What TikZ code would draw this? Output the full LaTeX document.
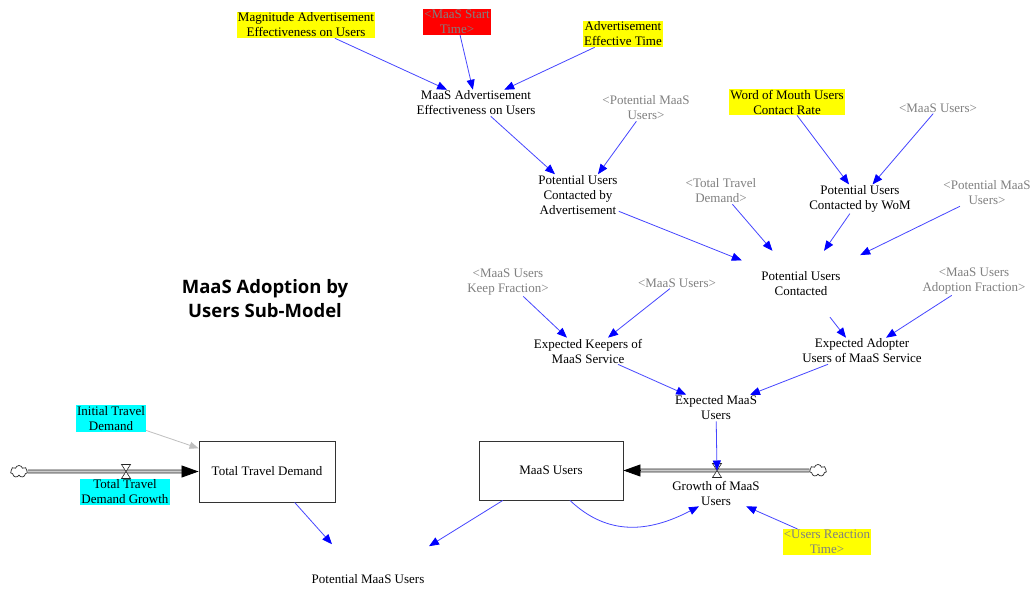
\documentclass[tikz,border=0pt]{standalone}
\usepackage{fontspec}
\setmainfont{Liberation Serif}
\newfontfamily\headfont{Open Sans}
\usetikzlibrary{arrows.meta,shapes.symbols}

\definecolor{linkblue}{RGB}{70,70,255}
\definecolor{tipblue}{RGB}{0,0,255}
\definecolor{shadowgray}{RGB}{128,128,128}
\definecolor{markyellow}{RGB}{255,255,0}
\definecolor{markred}{RGB}{255,0,0}
\definecolor{markcyan}{RGB}{0,255,255}

\tikzset{
  varlabel/.style={font=\fontsize{13}{15}\selectfont, align=center, inner sep=1pt, text=black},
  shadowvar/.style={varlabel, text=shadowgray},
  markY/.style={fill=markyellow},
  markR/.style={fill=markred},
  markC/.style={fill=markcyan},
  stockbox/.style={varlabel, draw=black!80, line width=0.9pt},
  link/.style={draw=linkblue, line width=0.8pt, -{Triangle[length=10pt,width=8pt,color=tipblue]}},
  initlink/.style={draw=black!25, line width=0.8pt, -{Triangle[length=9pt,width=7pt]}},
  pipe/.style={draw=black!85, line width=0.8pt, double=black!20, double distance=2.2pt},
  pipetip/.style={-{Triangle[length=17pt,width=12pt]}, black, line width=0.8pt},
  sourcecloud/.style={cloud, cloud puffs=7, cloud ignores aspect, draw=black!85, line width=0.7pt,
    fill=white, minimum width=17pt, minimum height=12pt, inner sep=0pt},
  valve/.pic={\path[pic actions] (-4.5,-7) -- (4.5,-7) -- (-4.5,7) -- (4.5,7) -- cycle;},
}

\begin{document}
\begin{tikzpicture}[x=1pt,y=-1pt]
\path[fill=white] (0,0) rectangle (1035,590);
\useasboundingbox (0,0) rectangle (1035,590);

% title
\node[font=\headfont\bfseries\fontsize{18.5}{23.5}\selectfont, align=center] (title) at (265,298.5)
  {MaaS Adoption by\\Users Sub-Model};

% advertisement branch
\node[varlabel, markY] (mag) at (306,25) {Magnitude Advertisement\\Effectiveness on Users};
\node[shadowvar, markR] (start) at (457,22) {<MaaS Start\\Time>};
\node[varlabel, markY] (aet) at (623,34) {Advertisement\\Effective Time};
\node[varlabel] (mae) at (476,103) {MaaS Advertisement\\Effectiveness on Users};
\node[shadowvar] (pmu1) at (646,108) {<Potential MaaS\\Users>};
\node[varlabel] (pua) at (578,195) {Potential Users\\Contacted by\\Advertisement};

% word of mouth branch
\node[varlabel, markY] (womr) at (787,102) {Word of Mouth Users\\Contact Rate};
\node[shadowvar] (mu1) at (938,108) {<MaaS Users>};
\node[varlabel] (puw) at (860,199) {Potential Users\\Contacted by WoM};
\node[shadowvar] (ttd1) at (721,191) {<Total Travel\\Demand>};
\node[shadowvar] (pmu2) at (987,193) {<Potential MaaS\\Users>};

% contacted users
\node[varlabel, minimum width=118pt, minimum height=66pt] (puc) at (801,284) {Potential Users\\Contacted};
\node[shadowvar] (kf) at (508,282) {<MaaS Users\\Keep Fraction>};
\node[shadowvar] (mu2) at (677,283) {<MaaS Users>};
\node[shadowvar] (af) at (974,281) {<MaaS Users\\Adoption Fraction>};
\node[varlabel] (ek) at (588,351) {Expected Keepers of\\MaaS Service};
\node[varlabel] (ea) at (862,351) {Expected Adopter\\Users of MaaS Service};
\node[varlabel] (emu) at (716,408) {Expected MaaS\\Users};

% stocks and flows
\node[stockbox, minimum width=136pt, minimum height=61pt] (ttd) at (267,471.5) {Total Travel Demand};
\node[stockbox, minimum width=144pt, minimum height=59pt] (mu) at (551,470.5) {MaaS Users};
\node[sourcecloud] (c1) at (19,471.5) {};
\node[sourcecloud] (c2) at (818,470.5) {};
\coordinate (v1) at (126,471.5);
\coordinate (v2) at (717,470.5);

\draw[pipe] (c1.east) -- ([xshift=-15pt]ttd.west);
\draw[pipetip] ([xshift=-17pt]ttd.west) -- (ttd.west);
\draw[pipe] (c2.west) -- ([xshift=15pt]mu.east);
\draw[pipetip] ([xshift=17pt]mu.east) -- (mu.east);
\pic[draw=black!85, line width=0.6pt, fill=white] at (v1) {valve};
\pic[draw=black!85, line width=0.6pt, fill=white] at (v2) {valve};

\node[varlabel, markC] (itd) at (111,418.5) {Initial Travel\\Demand};
\node[varlabel, markC] (ttdg) at (125,492) {Total Travel\\Demand Growth};
\node[varlabel] (gm) at (716,493) {Growth of MaaS\\Users};
\node[shadowvar, markY] (urt) at (827,542) {<Users Reaction\\Time>};
\node[varlabel] (pmu) at (368,579) {Potential MaaS Users};

% causal links
\draw[link] (mag) -- (mae);
\draw[link] (start) -- (mae);
\draw[link] (aet) -- (mae);
\draw[link] (mae) -- (pua);
\draw[link] (pmu1) -- ([xshift=20pt]pua.north);
\draw[link] (womr) -- (puw);
\draw[link] (mu1) -- (puw);
\draw[link] (pua) -- (puc);
\draw[link] (ttd1) -- (puc);
\draw[link] (puw) -- (puc);
\draw[link] (pmu2) -- (puc);
\draw[link] (kf) -- ([xshift=-21pt]ek.north);
\draw[link] (mu2) -- ([xshift=20pt]ek.north);
\draw[link] ([xshift=29pt]puc.south) -- ([xshift=-16pt]ea.north);
\draw[link] (af) -- ([xshift=24pt]ea.north);
\draw[link] (ek) -- (emu);
\draw[link] (ea) -- (emu);
\draw[link] (emu) -- (v2);
\draw[link] (urt) -- (gm);
\draw[link] ([xshift=19pt]mu.south) .. controls +(38,36) and +(-50,26) .. ([xshift=-17pt]gm.south);
\draw[link] (mu) -- ([xshift=61pt,yshift=27pt]pmu.north);
\draw[link] (ttd) -- ([xshift=-36pt,yshift=29pt]pmu.north);
\draw[initlink] (itd) -- (ttd);
\end{tikzpicture}
\end{document}
